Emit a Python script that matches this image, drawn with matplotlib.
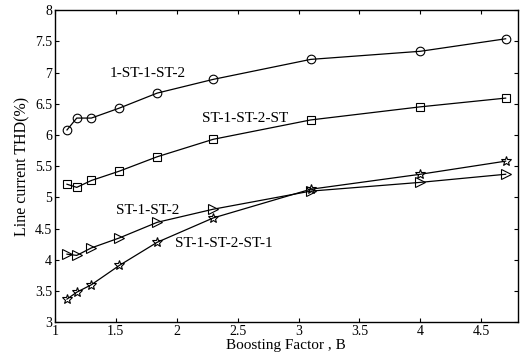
import numpy as np
import matplotlib.pyplot as plt

# boosting factor values and line current THD (%) for each configuration
B = [1.1, 1.18, 1.3, 1.53, 1.84, 2.3, 3.1, 4.0, 4.7]
thd_1st1st2 = [6.08, 6.27, 6.27, 6.43, 6.67, 6.89, 7.21, 7.34, 7.54]
thd_st1st2st = [5.21, 5.16, 5.27, 5.42, 5.65, 5.93, 6.24, 6.45, 6.59]
thd_st1st2 = [4.09, 4.07, 4.19, 4.35, 4.60, 4.81, 5.10, 5.24, 5.37]
thd_st1st2st1 = [3.37, 3.48, 3.60, 3.91, 4.28, 4.67, 5.13, 5.37, 5.58]

plt.rcParams['font.family'] = ['Liberation Serif', 'DejaVu Serif']

fig = plt.figure(figsize=(5.22, 3.6), dpi=100)
ax = fig.add_axes([0.105, 0.105, 0.887, 0.867])

kw = dict(color='k', lw=0.9, mfc='none', mec='k', mew=0.8)
ax.plot(B, thd_1st1st2, marker='o', ms=6.2, **kw)
ax.plot(B, thd_st1st2st, marker='s', ms=5.8, **kw)
ax.plot(B, thd_st1st2, marker='>', ms=7, **kw)
ax.plot(B, thd_st1st2st1, marker='*', ms=7.5, **kw)

ax.text(1.45, 6.93, '1-ST-1-ST-2', fontsize=11)
ax.text(2.21, 6.2, 'ST-1-ST-2-ST', fontsize=11)
ax.text(1.5, 4.73, 'ST-1-ST-2', fontsize=11)
ax.text(1.99, 4.2, 'ST-1-ST-2-ST-1', fontsize=11)

ax.set_xlim(1, 4.8)
ax.set_ylim(3, 8)
ax.set_xticks(np.arange(1, 5, 0.5))
ax.set_xticklabels(['1', '1.5', '2', '2.5', '3', '3.5', '4', '4.5'])
ax.set_yticks(np.arange(3, 8.01, 0.5))
ax.set_yticklabels(['3', '3.5', '4', '4.5', '5', '5.5', '6', '6.5', '7', '7.5', '8'])
ax.tick_params(direction='in', top=True, right=True, labelsize=10, length=3, pad=2)
ax.set_xlabel('Boosting Factor , B', fontsize=11, labelpad=1)
ax.set_ylabel('Line current THD(%)', fontsize=11.5, labelpad=3)
for s in ax.spines.values():
    s.set_linewidth(1.0)

fig.savefig('out.png', dpi=100)
